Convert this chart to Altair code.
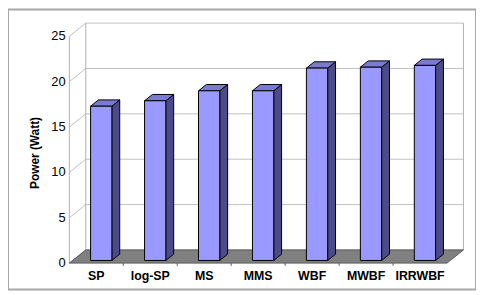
import altair as alt
import pandas as pd

# ---- data ----
categories = ["SP", "log-SP", "MS", "MMS", "WBF", "MWBF", "IRRWBF"]
power = [17.0, 17.6, 18.7, 18.7, 21.2, 21.3, 21.5]
y_ticks = [0, 5, 10, 15, 20, 25]
y_title = "Power (Watt)"

# ---- 3D geometry (in data units) ----
N = len(categories)
Y_TOP = 25
DX, DY = 0.304, 1.45          # full depth of the box
F0, F1 = 0.2, 0.68            # bar front/back depth fractions
HW = 0.197                    # half bar width
CSHIFT = 0.03

X_MIN, X_MAX = -1.137, 7.537
Y_MIN, Y_MAX = -2.91, 27.95

xs = alt.Scale(domain=[X_MIN, X_MAX], nice=False, zero=False)
ys = alt.Scale(domain=[Y_MIN, Y_MAX], nice=False, zero=False)


def X(f):
    return alt.X(f, type="quantitative", scale=xs, axis=None)


def Y(f):
    return alt.Y(f, type="quantitative", scale=ys, axis=None)


GRID = "#c0c0c0"

# back wall gridlines
back = pd.DataFrame({"x": DX, "x2": N + DX,
                     "y": [t + DY for t in y_ticks]})
back_grid = alt.Chart(back).mark_rule(color=GRID, strokeWidth=1).encode(
    x=X("x"), x2="x2", y=Y("y"))

# left wall diagonals
diag = pd.DataFrame({"x": 0.0, "x2": DX, "y": y_ticks,
                     "y2": [t + DY for t in y_ticks]})
left_grid = alt.Chart(diag).mark_rule(color=GRID, strokeWidth=1).encode(
    x=X("x"), x2="x2", y=Y("y"), y2="y2")

# vertical edges: back-left, back-right, front axis
edges = pd.DataFrame({"x": [DX, N + DX, 0.0],
                      "y": [DY, DY, 0.0],
                      "y2": [Y_TOP + DY, Y_TOP + DY, Y_TOP],
                      "k": ["bl", "br", "f"]})
edge_rules = alt.Chart(edges).mark_rule(color="#b0b0b0", strokeWidth=1).encode(
    x=X("x"), y=Y("y"), y2="y2", detail="k")

# floor
floor_df = pd.DataFrame({"y": [0.0, DY], "x": [0.0, DX],
                         "x2": [float(N), N + DX], "g": "floor"})
floor = alt.Chart(floor_df).mark_area(
    orient="horizontal", color="#808080", stroke="#5a5a5a", strokeWidth=1
).encode(y=Y("y"), x=X("x"), x2="x2", detail="g")

# floor tick marks
ticks_df = pd.DataFrame({"x": [float(k) for k in range(1, N)], "y": 0.0, "y2": -0.3})
floor_ticks = alt.Chart(ticks_df).mark_rule(color="#5a5a5a").encode(
    x=X("x"), y=Y("y"), y2="y2")

# bars
rows_front, rows_side, rows_top = [], [], []
ddx, ddy = (F1 - F0) * DX, (F1 - F0) * DY
for i, (c, v) in enumerate(zip(categories, power)):
    cx = i + 0.5 + CSHIFT + F0 * DX
    L, R = cx - HW, cx + HW
    yb, yt = F0 * DY, v + F0 * DY
    rows_front.append({"bar": c, "x": L, "x2": R, "y": yb, "y2": yt})
    rows_side += [{"bar": c, "x": R, "y": yb, "y2": yt},
                  {"bar": c, "x": R + ddx, "y": yb + ddy, "y2": yt + ddy}]
    rows_top += [{"bar": c, "y": yt, "x": L, "x2": R},
                 {"bar": c, "y": yt + ddy, "x": L + ddx, "x2": R + ddx}]

side = alt.Chart(pd.DataFrame(rows_side)).mark_area(
    orient="vertical", color="#4b4b8a", stroke="#000000", strokeWidth=1
).encode(x=X("x"), y=Y("y"), y2="y2", detail="bar")

top = alt.Chart(pd.DataFrame(rows_top)).mark_area(
    orient="horizontal", color="#7a7ad2", stroke="#000000", strokeWidth=1
).encode(y=Y("y"), x=X("x"), x2="x2", detail="bar")

front = alt.Chart(pd.DataFrame(rows_front)).mark_rect(
    color="#9999ff", stroke="#000000", strokeWidth=1
).encode(x=X("x"), x2="x2", y=Y("y"), y2="y2")

# texts
ylab = pd.DataFrame({"y": y_ticks, "t": [str(t) for t in y_ticks], "x": -0.07})
ylabels = alt.Chart(ylab).mark_text(
    align="right", baseline="middle", font="Liberation Sans", fontSize=13,
    color="#000000"
).encode(x=X("x"), y=Y("y"), text="t")

xlab = pd.DataFrame({"x": [i + 0.5 for i in range(N)], "t": categories, "y": -1.45})
xlabels = alt.Chart(xlab).mark_text(
    align="center", baseline="middle", font="Liberation Sans", fontSize=12.5,
    fontWeight="bold", color="#000000"
).encode(x=X("x"), y=Y("y"), text="t")

ttl = pd.DataFrame({"x": [-0.642], "y": [12.14], "t": [y_title]})
ytitle = alt.Chart(ttl).mark_text(
    align="center", baseline="middle", angle=270, font="Liberation Sans",
    fontSize=12, fontWeight="bold", color="#000000"
).encode(x=X("x"), y=Y("y"), text="t")

chart = alt.layer(
    back_grid, left_grid, edge_rules, floor, floor_ticks,
    side, top, front, ylabels, xlabels, ytitle
).properties(
    width=473, height=283, padding=0,
    autosize=alt.AutoSizeParams(type="none"),
    background="#ffffff"
).configure_view(stroke="#a8a8a8", strokeWidth=2)

chart.save("out.html", embed_options={"renderer": "svg", "actions": False})
